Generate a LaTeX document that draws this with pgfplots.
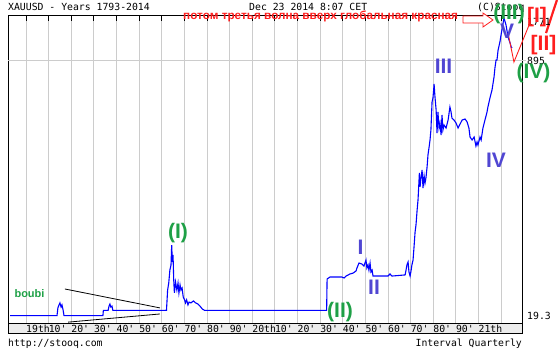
\documentclass[border=0pt]{standalone}
\usepackage{pgfplots}
\pgfplotsset{compat=1.18}
\usepackage{fontspec}
\setmainfont{Liberation Sans}
\newfontfamily\mono{DejaVu Sans Mono}
\definecolor{wgreen}{RGB}{30,160,70}
\definecolor{wblue}{RGB}{80,70,210}
\definecolor{wred}{RGB}{255,30,30}
\definecolor{gridc}{RGB}{204,204,204}
\definecolor{bandc}{RGB}{236,236,236}
\newcommand{\mf}{\mono\fontsize{9.8bp}{10bp}\selectfont}
\newcommand{\nf}{\bfseries\fontsize{21bp}{21bp}\selectfont}
\begin{document}
\begin{tikzpicture}[x=1bp,y=1bp]
\useasboundingbox (0,0) rectangle (560,-350);
\fill[bandc] (8,-323) rectangle (522,-333);
\draw[black,line width=0.8bp] (8,-323) -- (8,-333) -- (522,-333) -- (522,-323);
\begin{axis}[
 at={(8bp,-323bp)}, anchor=south west, scale only axis,
 width=514bp, height=307.5bp,
 xmin=1792.04, xmax=2019.27,
 ymode=log, ymin=17.37, ymax=1771,
 clip=false,
 axis line style={line width=0.8bp},
 xtick={1800,1810,...,2010},
 xticklabels={19th,10',20',30',40',50',60',70',80',90',20th,10',20',30',40',50',60',70',80',90',21th},
 xtick pos=right, xticklabel pos=left,
 tick align=inside, major tick length=6bp,
 xtick style={black, line width=0.8bp},
 xmajorgrids, grid style={gridc, line width=0.8bp},
 xticklabel style={font=\mf, anchor=north west, inner sep=0pt, yshift=-2bp, xshift=0bp},
 ytick={19.3,895}, yticklabels={19.3,895},
 minor y tick num=0,
 ytick style={draw=none},
 yticklabel pos=right,
 yticklabel style={font=\mf, anchor=west, inner sep=0pt, xshift=5bp},
]
\addplot[gridc, line width=0.8bp] coordinates {(1792.04,895) (2020.9,895)};
\addplot[blue, line width=1.1bp] coordinates {
(1793,19.4) (1813.7,19.4) (1814.1,21.8) (1814.6,22.8) (1815.0,23.5) (1815.5,22.1) (1815.9,22.8) (1816.4,21.1) (1816.8,19.4) (1834.0,19.4) (1834.2,21.0) (1836.3,21.0) (1836.7,22.4) (1837.1,23.1) (1837.5,22.1) (1838.0,22.4) (1838.4,21.0)
(1862.1,21.0) (1862.6,28.5) (1863.1,31.7) (1863.6,38.5) (1864.1,41.6) (1864.4,56.1) (1864.7,43.5) (1865.0,48.3) (1865.3,33.2) (1865.6,27.3) (1866.1,32.2) (1866.7,28.5) (1867.2,31.7) (1867.6,27.3) (1868.1,30.8) (1868.5,28.5) (1869.0,29.4) (1869.5,25.7) (1870.1,24.6) (1870.5,23.5) (1871.0,24.6) (1871.6,22.8) (1872.1,23.8) (1872.9,23.5) (1874.0,24.2) (1875.0,23.5) (1876.0,23.1) (1876.9,22.4) (1878.0,21.4) (1879.0,21.0)
(1932.9,21.0) (1933.1,33.7) (1934.4,34.7) (1939.6,34.7) (1940.6,34.2) (1941.5,35.2) (1943.2,36.3) (1944.6,36.8) (1945.9,38.0) (1946.3,39.7) (1947.2,42.8) (1948.5,42.2) (1949.4,40.9) (1950.3,44.8) (1950.7,39.7) (1951.2,41.6) (1951.6,38.5) (1952.1,42.8) (1952.5,37.4) (1953.0,38.5) (1953.4,35.2) (1960.0,35.2) (1960.9,36.3) (1961.8,35.2) (1967.6,35.8) (1968.0,38.5) (1968.4,41.6) (1968.9,43.5) (1969.3,37.4) (1969.8,35.2) (1970.2,38.0) (1970.6,41.6) (1971.1,44.8) (1971.5,53.7) (1972.0,68.3) (1972.4,75.8) (1972.9,95.0) (1973.3,110.6) (1973.9,165.8) (1974.2,134.4) (1974.6,153.8) (1975.1,173.4) (1975.5,132.3) (1976.0,158.5) (1976.4,142.6) (1976.8,153.8) (1977.3,181.4) (1977.7,217.3) (1978.2,245.1) (1978.6,272.3) (1979.0,316.4) (1979.5,482.1) (1979.9,512.0) (1980.2,577.5) (1980.4,632.1) (1980.8,519.7) (1981.3,427.5) (1981.7,302.5) (1982.1,414.8) (1982.6,326.1) (1983.0,351.6) (1983.5,293.6) (1983.9,396.5) (1984.3,316.4) (1984.8,341.1) (1985.7,326.1) (1986.6,367.8) (1987.4,447.2) (1987.9,414.8) (1988.3,379.1) (1989.2,367.8) (1990.1,351.6) (1991.0,326.1) (1991.9,346.3) (1992.8,367.8) (1994.1,373.4) (1995.0,356.9) (1995.8,326.1) (1996.3,284.8) (1997.2,272.3) (1998.1,284.8) (1998.9,248.8) (1999.4,264.2) (1999.8,252.5) (2000.7,284.8) (2001.2,272.3) (2002.0,326.1) (2002.9,367.8) (2003.8,414.8) (2004.2,447.2) (2005.1,512.0) (2006.0,577.5) (2006.9,702.2) (2007.3,803.8) (2007.8,906.9) (2008.2,906.9) (2008.7,1053.8) (2009.5,1188.5) (2010.0,1320.5) (2010.9,1581.9) (2011.3,1705.3) (2012.2,1535) (2013.1,1281) (2014.0,1170.8) (2014.5,1102.4) (2014.9,1086)
};
% black triangle lines
\addplot[black, line width=0.8bp] coordinates {(1817.2,28.97) (1859.2,21.8)};
\addplot[black, line width=0.8bp] coordinates {(1818.6,17.6) (1859.2,19.9)};
% red wave lines
\addplot[wred, line width=0.9bp] coordinates {(2013.1,1360) (2015.7,880) (2022.4,1535)};
\addplot[wred, line width=2.2bp] coordinates {(2029.9,1360) (2034.7,2235)};
\end{axis}
\node[anchor=north west, inner sep=0pt, font=\mf] at (527,-18) {1771};
\node[anchor=base west, inner sep=0pt, font=\mf] at (8,-10) {XAUUSD - Years 1793-2014};
\node[anchor=base west, inner sep=0pt, font=\mf] at (249,-10) {Dec 23 2014 8:07 CET};
\node[anchor=base west, inner sep=0pt, font=\mf] at (477,-10) {(C)Stooq};
\node[anchor=base west, inner sep=0pt, font=\mf] at (8,-346.5) {http://stooq.com};
\node[anchor=base east, inner sep=0pt, font=\mf] at (522,-346.5) {Interval Quarterly};
\node[anchor=base west, inner sep=0pt, text=wred, font=\bfseries\fontsize{11.75bp}{12bp}\selectfont] at (183,-19.5) {потом третья волна вверх глобальная красная};
\draw[wred, fill=white, line width=0.8bp] (463,-16)--(483,-16)--(483,-13)--(493,-20)--(483,-27)--(483,-23)--(463,-23)--cycle;
\node[inner sep=0pt, text=wgreen, font=\nf] at (178,-233) {(I)};
\node[inner sep=0pt, text=wgreen, font=\nf] at (340,-312) {(II)};
\node[inner sep=0pt, text=wblue, font=\nf] at (360.5,-247.5) {I};
\node[inner sep=0pt, text=wblue, font=\nf] at (374,-287.5) {II};
\node[inner sep=0pt, text=wblue, font=\nf] at (443.5,-66.5) {III};
\node[inner sep=0pt, text=wblue, font=\nf] at (496,-160.5) {IV};
\node[inner sep=0pt, text=wblue, font=\nf] at (507,-31.5) {V};
\node[inner sep=0pt, text=wgreen, font=\nf] at (509,-14) {(III)};
\node[inner sep=0pt, text=wgreen, font=\nf] at (533.5,-73) {(IV)};
\node[inner sep=0pt, text=wred, font=\nf] at (537,-17) {[I]};
\node[inner sep=0pt, text=wred, font=\nf] at (543.5,-45) {[II]};
\node[inner sep=0pt, text=wgreen, font=\bfseries\fontsize{11bp}{11bp}\selectfont] at (29.5,-293.5) {boubi};
\end{tikzpicture}
\end{document}
